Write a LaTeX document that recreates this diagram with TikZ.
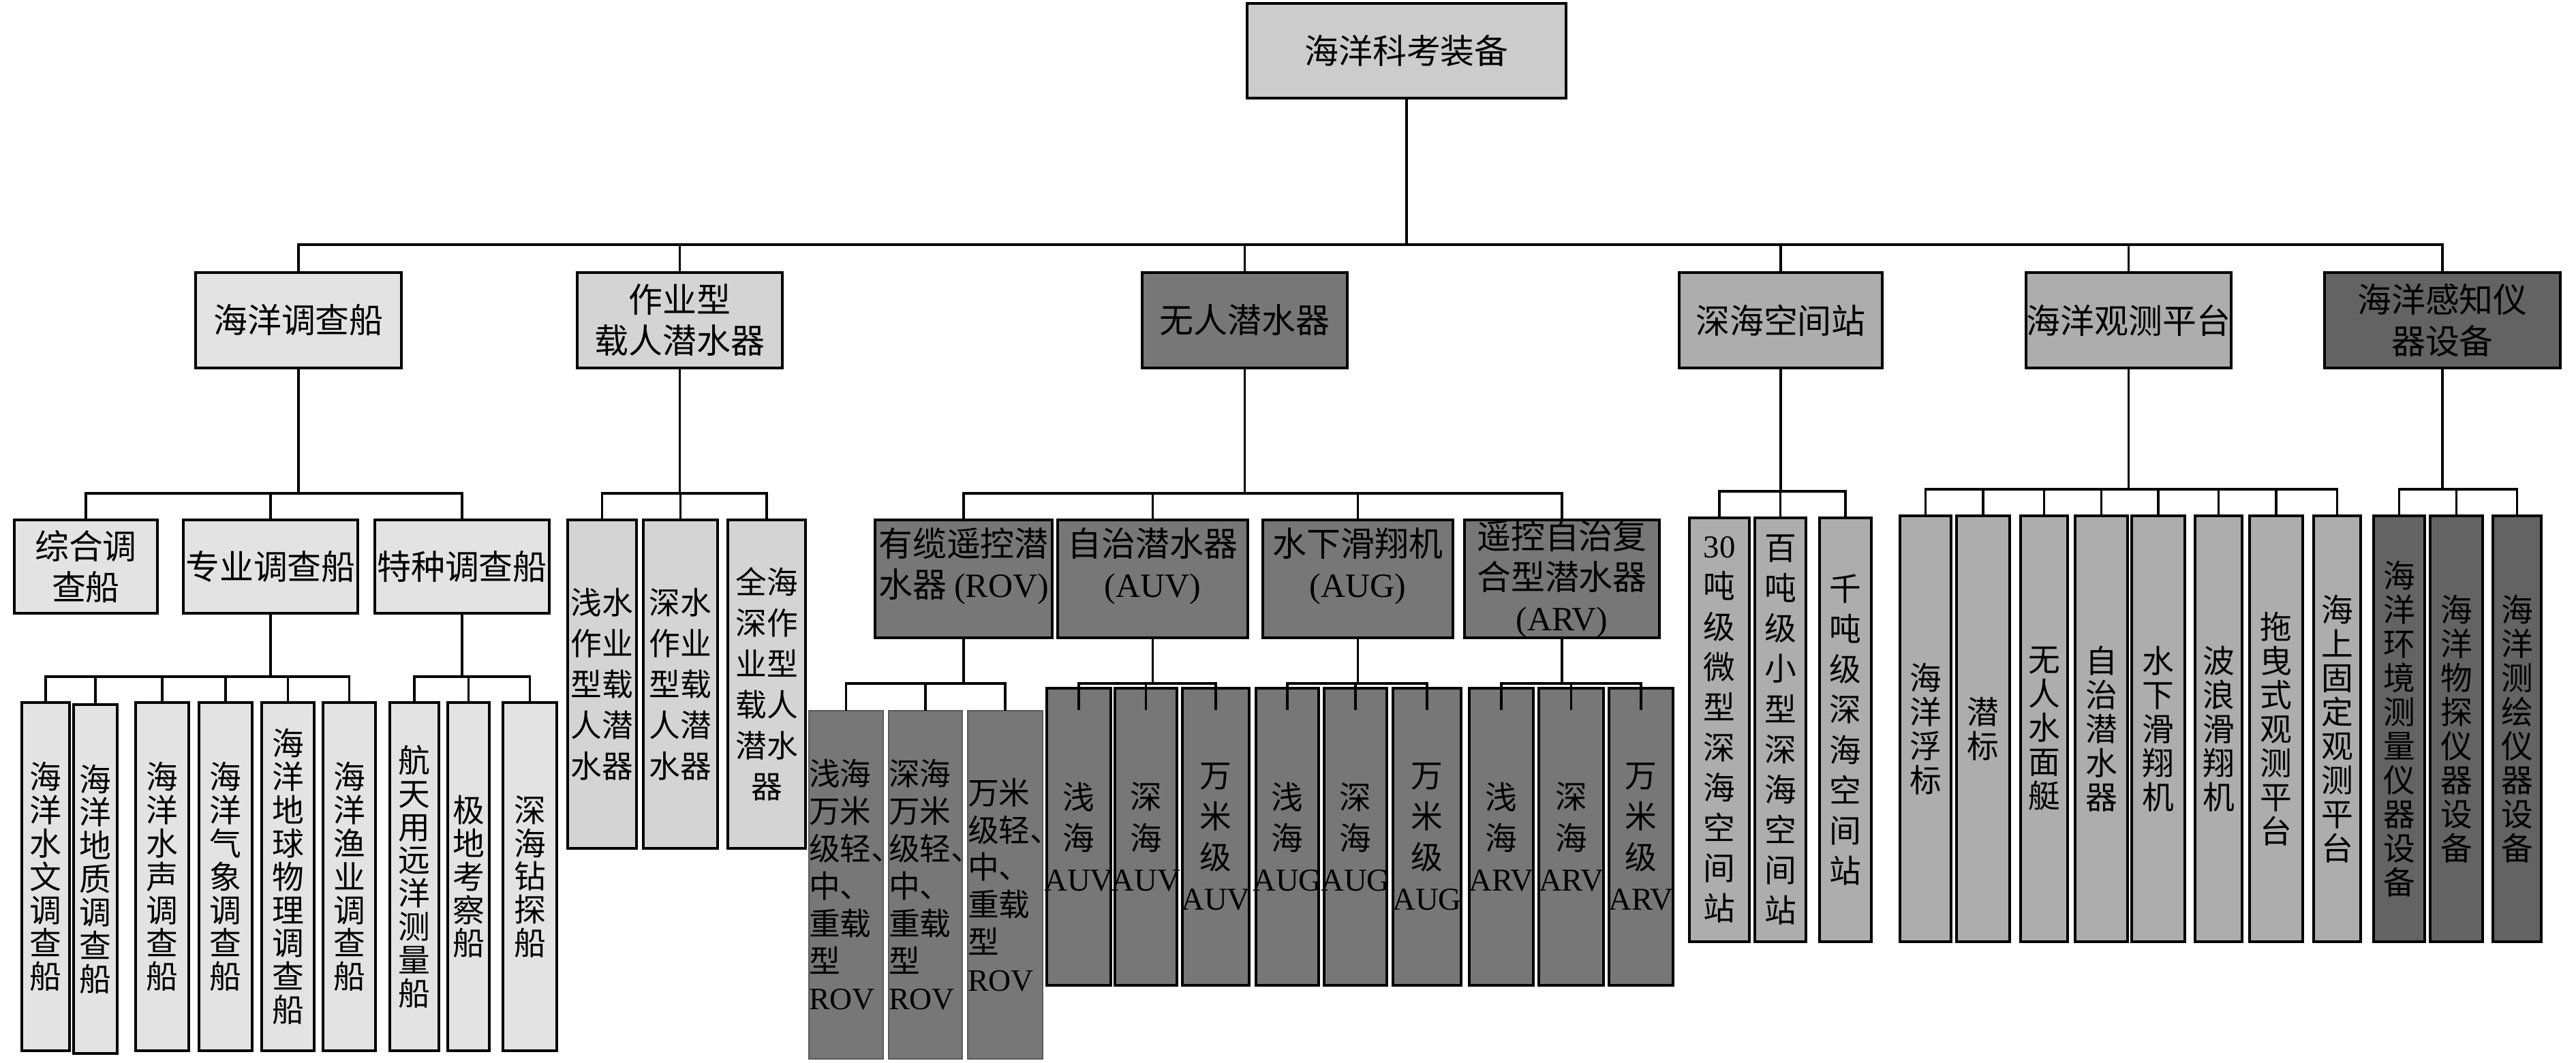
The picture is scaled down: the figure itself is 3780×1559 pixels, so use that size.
\documentclass[tikz,border=0pt]{standalone}
\usepackage{fontspec}
\setmainfont{Noto Sans CJK SC}
\newfontfamily\lat{Liberation Serif}
\usetikzlibrary{calc}
\definecolor{g0}{HTML}{CCCCCC}
\definecolor{g1}{HTML}{E3E3E3}
\definecolor{g2}{HTML}{D4D4D4}
\definecolor{g3}{HTML}{777777}
\definecolor{g4}{HTML}{ADADAD}
\definecolor{g5}{HTML}{636363}
\newcommand\mkbox[7]{%
 \pgfmathsetmacro\bw{(#5-#3)*0.01}%
 \pgfmathsetmacro\bh{(#6-#4)*0.01}%
 \node[bx,#1,minimum width=\bw cm,minimum height=\bh cm,text width=\bw cm] (#2) at ({(#3+#5)/2},{(#4+#6)/2}) {#7};}
\newcommand\ov[1]{\makebox[0pt]{\lat #1}}
\begin{document}
\begin{tikzpicture}[x=0.01cm,y=-0.01cm,
 bx/.style={draw=black,line width=1pt,inner sep=0pt,outer sep=0pt,align=center},
 thinbx/.style={draw=black!65,line width=0.4pt},
 conn/.style={line width=0.9pt,draw=black},
 fL/.style={font=\fontsize{14.2}{17.1}\selectfont},
 fA/.style={font=\fontsize{13.3}{13.9}\selectfont},
 fB/.style={font=\fontsize{13}{17.1}\selectfont},
 fR/.style={font=\fontsize{13}{15.6}\selectfont},
 fU/.style={font=\fontsize{13.3}{17.1}\selectfont},
 fD/.style={font=\fontsize{13.3}{16.8}\selectfont},
 fE/.style={font=\fontsize{13.3}{14.2}\selectfont}]
\useasboundingbox (0,0) rectangle (3780,1559);
% root
\mkbox{fill=g0,fL}{R}{1830}{5}{2298}{144}{海洋科考装备}
% level 1
\mkbox{fill=g1,fL}{A}{287}{400}{589}{540}{海洋调查船}
\mkbox{fill=g2,fL}{B}{847}{400}{1148}{540}{作业型\\载人潜水器}
\mkbox{fill=g3,fL}{C}{1676}{400}{1977}{540}{无人潜水器}
\mkbox{fill=g4,fL}{D}{2464}{400}{2762}{540}{深海空间站}
\mkbox{fill=g4,fL}{E}{2973}{400}{3274}{540}{海洋观测平台}
\mkbox{fill=g5,fL}{F}{3411}{400}{3757}{540}{海洋感知仪\\器设备}
% A children
\mkbox{fill=g1,fL}{A1}{21}{763}{231}{900}{综合调\\查船}
\mkbox{fill=g1,fL}{A2}{269}{763}{525}{900}{专业调查船}
\mkbox{fill=g1,fL}{A3}{550}{763}{806}{900}{特种调查船}
\mkbox{fill=g1,fA}{A2a}{32}{1031}{102}{1542}{海\\洋\\水\\文\\调\\查\\船}
\mkbox{fill=g1,fA}{A2b}{108}{1034}{172}{1546}{海\\洋\\地\\质\\调\\查\\船}
\mkbox{fill=g1,fA}{A2c}{199}{1031}{277}{1542}{海\\洋\\水\\声\\调\\查\\船}
\mkbox{fill=g1,fA}{A2d}{292}{1031}{370}{1542}{海\\洋\\气\\象\\调\\查\\船}
\mkbox{fill=g1,fA}{A2e}{384}{1031}{461}{1542}{海\\洋\\地\\球\\物\\理\\调\\查\\船}
\mkbox{fill=g1,fA}{A2f}{474}{1031}{551}{1542}{海\\洋\\渔\\业\\调\\查\\船}
\mkbox{fill=g1,fA}{A3a}{572}{1031}{644}{1542}{航\\天\\用\\远\\洋\\测\\量\\船}
\mkbox{fill=g1,fA}{A3b}{657}{1031}{718}{1542}{极\\地\\考\\察\\船}
\mkbox{fill=g1,fA}{A3c}{738}{1031}{817}{1542}{深\\海\\钻\\探\\船}
% B children
\mkbox{fill=g2,fB}{B1}{833}{763}{934}{1245}{浅水\\作业\\型载\\人潜\\水器}
\mkbox{fill=g2,fB}{B2}{944}{763}{1053}{1245}{深水\\作业\\型载\\人潜\\水器}
\mkbox{fill=g2,fB}{B3}{1068}{763}{1182}{1245}{全海\\深作\\业型\\载人\\潜水\\器}
% C children
\mkbox{fill=g3}{C1}{1284}{763}{1544}{936}{}
\mkbox{fill=g3}{C2}{1552}{763}{1831}{936}{}
\mkbox{fill=g3}{C3}{1853}{763}{2132}{936}{}
\mkbox{fill=g3,fL}{C4}{2149}{763}{2435}{936}{遥控自治复\\合型潜水器\\{\lat (ARV)}}
\node[fL,align=center,inner sep=0pt] (C1t) at ([yshift=0.19cm]C1.center) {有缆遥控潜\\水器~{\lat (ROV)}};
\node[fL,align=center,inner sep=0pt] (C2t) at ([yshift=0.19cm]C2.center) {自治潜水器\\{\lat (AUV)}};
\node[fL,align=center,inner sep=0pt] (C3t) at ([yshift=0.19cm]C3.center) {水下滑翔机\\{\lat (AUG)}};
\mkbox{fill=g3,thinbx,fR,align=left}{C1a}{1187}{1043}{1296}{1554}{浅海\\万米\\级轻、\\中、\\重载\\型\\{\lat ROV}}
\mkbox{fill=g3,thinbx,fR,align=left}{C1b}{1304}{1043}{1412}{1554}{深海\\万米\\级轻、\\中、\\重载\\型\\{\lat ROV}}
\mkbox{fill=g3,thinbx,fR,align=left}{C1c}{1420}{1043}{1530}{1554}{万米\\级轻、\\中、\\重载\\型\\{\lat ROV}}
\mkbox{fill=g3,fU}{C2a}{1536}{1010}{1630}{1446}{浅\\海\\\ov{AUV}}
\mkbox{fill=g3,fU}{C2b}{1636}{1010}{1727}{1446}{深\\海\\\ov{AUV}}
\mkbox{fill=g3,fU}{C2c}{1735}{1010}{1833}{1446}{万\\米\\级\\\ov{AUV}}
\mkbox{fill=g3,fU}{C3a}{1843}{1010}{1935}{1446}{浅\\海\\\ov{AUG}}
\mkbox{fill=g3,fU}{C3b}{1943}{1010}{2035}{1446}{深\\海\\\ov{AUG}}
\mkbox{fill=g3,fU}{C3c}{2044}{1010}{2144}{1446}{万\\米\\级\\\ov{AUG}}
\mkbox{fill=g3,fU}{C4a}{2156}{1010}{2250}{1446}{浅\\海\\\ov{ARV}}
\mkbox{fill=g3,fU}{C4b}{2258}{1010}{2353}{1446}{深\\海\\\ov{ARV}}
\mkbox{fill=g3,fU}{C4c}{2361}{1010}{2455}{1446}{万\\米\\级\\\ov{ARV}}
% D children
\mkbox{fill=g4,fD}{D1}{2479}{760}{2567}{1382}{{\lat 30}\\吨\\级\\微\\型\\深\\海\\空\\间\\站}
\mkbox{fill=g4,fD}{D2}{2575}{760}{2650}{1382}{百\\吨\\级\\小\\型\\深\\海\\空\\间\\站}
\mkbox{fill=g4,fD}{D3}{2670}{760}{2746}{1382}{千\\吨\\级\\深\\海\\空\\间\\站}
% E children
\mkbox{fill=g4,fE}{E1}{2788}{757}{2863}{1382}{海\\洋\\浮\\标}
\mkbox{fill=g4,fE}{E2}{2871}{757}{2949}{1382}{潜\\标}
\mkbox{fill=g4,fE}{E3}{2965}{757}{3034}{1382}{无\\人\\水\\面\\艇}
\mkbox{fill=g4,fE}{E4}{3045}{757}{3122}{1382}{自\\治\\潜\\水\\器}
\mkbox{fill=g4,fE}{E5}{3128}{757}{3206}{1382}{水\\下\\滑\\翔\\机}
\mkbox{fill=g4,fE}{E6}{3221}{757}{3290}{1382}{波\\浪\\滑\\翔\\机}
\mkbox{fill=g4,fE}{E7}{3301}{757}{3379}{1382}{拖\\曳\\式\\观\\测\\平\\台}
\mkbox{fill=g4,fE}{E8}{3395}{757}{3464}{1382}{海\\上\\固\\定\\观\\测\\平\\台}
% F children
\mkbox{fill=g5,fE}{F1}{3483}{757}{3558}{1382}{海\\洋\\环\\境\\测\\量\\仪\\器\\设\\备}
\mkbox{fill=g5,fE}{F2}{3566}{757}{3643}{1382}{海\\洋\\物\\探\\仪\\器\\设\\备}
\mkbox{fill=g5,fE}{F3}{3658}{757}{3729}{1382}{海\\洋\\测\\绘\\仪\\器\\设\\备}
% connectors
\coordinate (b0) at (0,359);
\foreach \nd in {A,B,C,D,E,F} \draw[conn] (R.south) -- (R.south |- b0) -| (\nd.north);
\coordinate (bA) at (0,724);
\foreach \nd in {A1,A2,A3} \draw[conn] (A.south) -- (A.south |- bA) -| (\nd.north);
\coordinate (bA2) at (0,993);
\foreach \nd in {A2a,A2b,A2c,A2d,A2e,A2f} \draw[conn] (A2.south) -- (A2.south |- bA2) -| (\nd.north);
\foreach \nd in {A3a,A3b,A3c} \draw[conn] (A3.south) -- (A3.south |- bA2) -| (\nd.north);
\coordinate (bB) at (0,724);
\foreach \nd in {B1,B2,B3} \draw[conn] (B.south) -- (B.south |- bB) -| (\nd.north);
\coordinate (bC) at (0,724);
\foreach \nd in {C1,C2,C3,C4} \draw[conn] (C.south) -- (C.south |- bC) -| (\nd.north);
\coordinate (bC2) at (0,1003);
\foreach \nd in {C1a,C1b,C1c} \draw[conn] (C1.south) -- (C1.south |- bC2) -| (\nd.north);
\foreach \nd in {C2a,C2b,C2c} \draw[conn] (C2.south) -- (C2.south |- bC2) -| ([yshift=-0.32cm]\nd.north);
\foreach \nd in {C3a,C3b,C3c} \draw[conn] (C3.south) -- (C3.south |- bC2) -| ([yshift=-0.32cm]\nd.north);
\foreach \nd in {C4a,C4b,C4c} \draw[conn] (C4.south) -- (C4.south |- bC2) -| ([yshift=-0.32cm]\nd.north);
\coordinate (bD) at (0,721);
\foreach \nd in {D1,D2,D3} \draw[conn] (D.south) -- (D.south |- bD) -| (\nd.north);
\coordinate (bE) at (0,718);
\foreach \nd in {E1,E2,E3,E4,E5,E6,E7,E8} \draw[conn] (E.south) -- (E.south |- bE) -| (\nd.north);
\foreach \nd in {F1,F2,F3} \draw[conn] (F.south) -- (F.south |- bE) -| (\nd.north);
\end{tikzpicture}
\end{document}
